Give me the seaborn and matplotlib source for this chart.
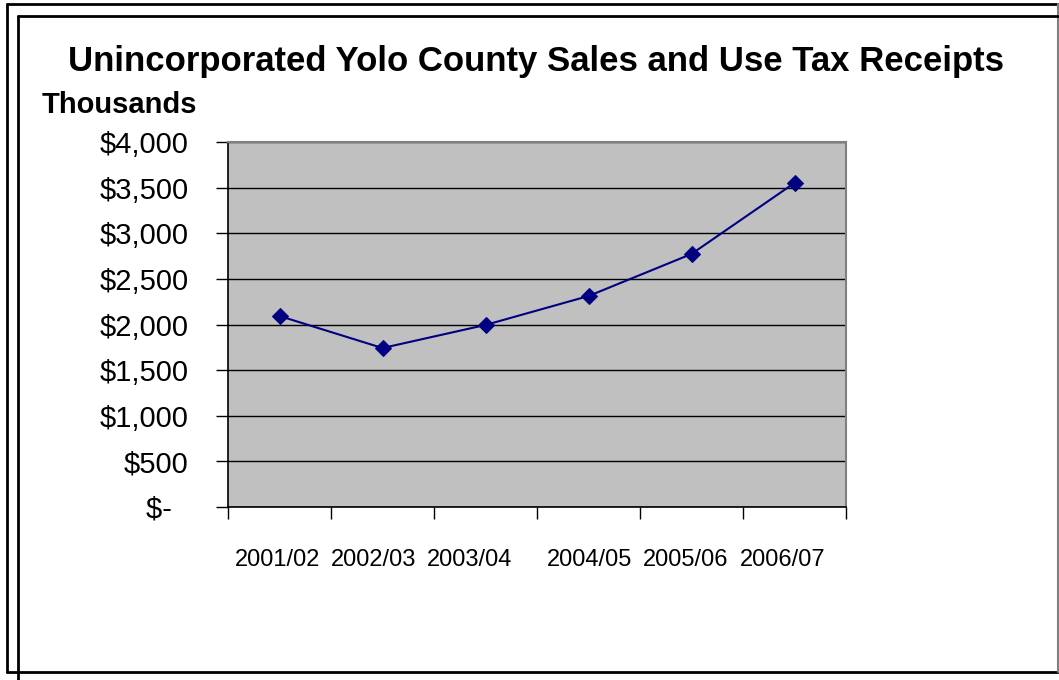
import matplotlib
matplotlib.use("Agg")
import matplotlib.pyplot as plt
import matplotlib.transforms as mtransforms
import seaborn as sns
import pandas as pd
from matplotlib.lines import Line2D
from matplotlib.ticker import FixedLocator

years = ["2001/02", "2002/03", "2003/04", "2004/05", "2005/06", "2006/07"]
receipts = [2093, 1742, 1995, 2312, 2773, 3551]
y_ticks = [0, 500, 1000, 1500, 2000, 2500, 3000, 3500, 4000]
y_labels = ["$-  ", "$500", "$1,000", "$1,500", "$2,000", "$2,500", "$3,000", "$3,500", "$4,000"]

sns.set_theme(style="white")
plt.rcParams['font.family'] = ['Liberation Sans', 'DejaVu Sans']
plt.rcParams['text.color'] = 'black'
plt.rcParams['xtick.color'] = 'black'
plt.rcParams['ytick.color'] = 'black'
plt.rcParams['axes.labelcolor'] = 'black'

df = pd.DataFrame({"year": years, "receipts": receipts})

fig = plt.figure(figsize=(10.59, 6.80), dpi=100)
W, H = 1059, 680
ax = fig.add_axes([228 / W, 1 - 507 / H, (846 - 228) / W, (507 - 142) / H])
ax.set_facecolor("#C0C0C0")

sns.lineplot(data=df, x="year", y="receipts", ax=ax, color="#000080",
             marker="D", markersize=8, linewidth=1.5, markeredgecolor="#000080",
             sort=False)

ax.set_xlim(-0.5, len(years) - 0.5)
ax.set_ylim(0, 4000)
ax.set_yticks(y_ticks)
ax.set_yticklabels(y_labels, fontsize=21, color="black")
ax.yaxis.grid(True, color="black", linewidth=1)
ax.set_axisbelow(True)
ax.set_xticks(range(len(years)))
ax.set_xticklabels(years, fontsize=17, color="black")
ax.xaxis.set_minor_locator(FixedLocator([i - 0.5 for i in range(len(years) + 1)]))
ax.tick_params(axis="x", which="major", length=0, pad=30)
ax.tick_params(axis="x", which="minor", length=8.5, width=1, color="black", direction="out", bottom=True)
ax.tick_params(axis="y", which="major", length=8.5, width=1, color="black", direction="out", left=True, pad=20)
ax.set_xlabel("")
ax.set_ylabel("")

# Excel-style uneven label placement (pixel nudges)
label_nudge_px = [-2, -9, -16, 1, -6, -12]
for lab, dx in zip(ax.get_xticklabels(), label_nudge_px):
    lab.set_transform(lab.get_transform() +
                      mtransforms.ScaledTranslation(dx / 100, 0, fig.dpi_scale_trans))

for s in ["left", "bottom"]:
    ax.spines[s].set_color("black")
    ax.spines[s].set_linewidth(1.2)
for s in ["top", "right"]:
    ax.spines[s].set_color("#808080")
    ax.spines[s].set_linewidth(1.5)

fig.text(536 / W, 1 - 62 / H, "Unincorporated Yolo County Sales and Use Tax Receipts",
         ha="center", va="center", fontsize=25, fontweight="bold", color="black")
fig.text(42 / W, 1 - 105 / H, "Thousands", ha="left", va="center",
         fontsize=21, fontweight="bold", color="black")

def fl(x0, y0, x1, y1, color="black", lw=2):
    fig.add_artist(Line2D([x0 / W, x1 / W], [1 - y0 / H, 1 - y1 / H],
                          color=color, linewidth=lw, transform=fig.transFigure))

# outer frame
fl(7, 4, 1058, 4)
fl(7, 4, 7, 672)
fl(7, 672, 1058, 672)
fl(1058, 4, 1058, 672, color="#808080", lw=1.5)
# inner frame
fl(18, 16, 1058, 16)
fl(18, 16, 18, 680)

fig.savefig("out.png", dpi=100)
